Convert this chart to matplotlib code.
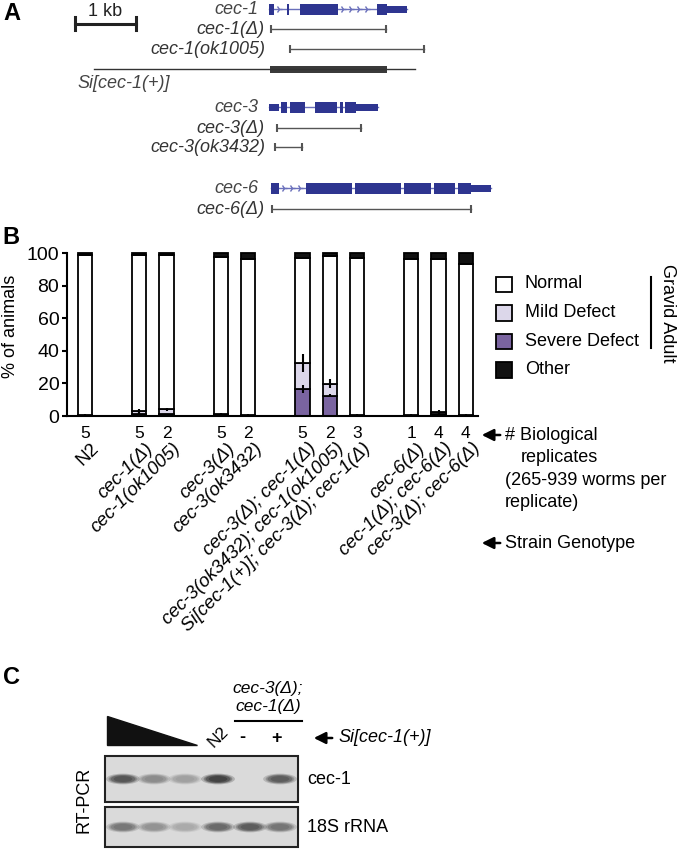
import matplotlib.pyplot as plt
import matplotlib.patches as mpatches
import numpy as np

plt.rcParams['font.family'] = ['Liberation Sans', 'DejaVu Sans']

# ---- panel B data ----
strains = ['N2', 'cec-1(Δ)', 'cec-1(ok1005)', 'cec-3(Δ)', 'cec-3(ok3432)',
           'cec-3(Δ); cec-1(Δ)', 'cec-3(ok3432); cec-1(ok1005)',
           'Si[cec-1(+)]; cec-3(Δ); cec-1(Δ)', 'cec-6(Δ)',
           'cec-1(Δ); cec-6(Δ)', 'cec-3(Δ); cec-6(Δ)']
slots = [0, 2, 3, 5, 6, 8, 9, 10, 12, 13, 14]
replicates = [5, 5, 2, 5, 2, 5, 2, 3, 1, 4, 4]
severe = np.array([0.4, 1.5, 1.0, 0.8, 0.5, 16.5, 12.5, 0.5, 0.5, 1.5, 0.5])
mild = np.array([0.3, 1.3, 3.0, 0.5, 0.3, 16.3, 7.2, 0.3, 0.3, 1.2, 0.3])
other = np.array([1.5, 1.0, 1.0, 2.5, 3.5, 3.2, 2.0, 3.0, 3.5, 3.5, 6.5])
normal = 100 - severe - mild - other
severe_err = [0.3, 1.0, 0.5, 0.3, 0.2, 2.5, 0.8, 0.2, 0.2, 1.0, 0.2]
mild_err = [0.3, 1.5, 1.0, 0.3, 0.2, 5.5, 2.8, 0.2, 0.2, 1.2, 0.2]
categories = ['Normal', 'Mild Defect', 'Severe Defect', 'Other']
colors = {'Normal': 'white', 'Mild Defect': '#dcd7ea',
          'Severe Defect': '#7a64a0', 'Other': '#111111'}

# ---- panel A gene models (kb) ----
genes = {
    'cec-1': [(0.00, 0.08, 'cds'), (0.30, 0.33, 'cds'), (0.51, 1.13, 'cds'),
              (1.77, 1.93, 'cds'), (1.93, 2.26, 'utr')],
    'cec-3': [(0.00, 0.16, 'utr'), (0.20, 0.30, 'cds'), (0.34, 0.59, 'cds'),
              (0.75, 1.11, 'cds'), (1.16, 1.21, 'cds'), (1.25, 1.43, 'cds'),
              (1.43, 1.79, 'utr')],
    'cec-6': [(0.03, 0.16, 'cds'), (0.61, 1.36, 'cds'), (1.41, 2.16, 'cds'),
              (2.21, 2.66, 'cds'), (2.70, 3.05, 'cds'), (3.10, 3.31, 'cds'),
              (3.31, 3.64, 'utr')],
}
gene_rows = {'cec-1': 9, 'cec-3': 107, 'cec-6': 188}
alleles = [('cec-1(Δ)', 0.03, 1.92, 29), ('cec-1(ok1005)', 0.34, 2.54, 49),
           ('cec-3(Δ)', 0.13, 1.51, 128), ('cec-3(ok3432)', 0.10, 0.54, 147),
           ('cec-6(Δ)', 0.05, 3.31, 209)]
transgene = (-2.87, 2.39, 0.02, 1.93, 69)

# ---- panel C gel band intensities ----
cec1_band = [0.85, 0.45, 0.3, 1.0, 0.0, 0.8]
rrna_band = [0.6, 0.4, 0.22, 0.7, 0.8, 0.62]

fig = plt.figure(figsize=(6.77, 8.5), dpi=100)
ov = fig.add_axes([0, 0, 1, 1])
ov.set_xlim(0, 677)
ov.set_ylim(850, 0)
ov.axis('off')

X0, KB = 269, 61.0
def px(kb):
    return X0 + KB * kb

# panel A
ov.text(3, 13, 'A', fontsize=17, fontweight='bold', va='center')
ov.plot([75, 136], [24, 24], color='#222', lw=2.2)
ov.plot([75, 75], [17, 30], color='#222', lw=2.2)
ov.plot([136, 136], [17, 30], color='#222', lw=2.2)
ov.text(105, 11, '1 kb', fontsize=13, ha='center', va='center', color='#222')

blue = '#2e3590'
for name, parts in genes.items():
    y = gene_rows[name]
    ov.plot([px(parts[0][0]), px(parts[-1][1])], [y, y], color='#6a70bb', lw=1, zorder=2)
    for a, b, kind in parts:
        h = 11 if kind == 'cds' else 7
        ov.add_patch(mpatches.Rectangle((px(a), y - h / 2), px(b) - px(a), h,
                                        color=blue, lw=0, zorder=3))
    for (a0, b0, _), (a1, b1, _) in zip(parts[:-1], parts[1:]):
        if px(a1) - px(b0) > 12:
            xs = np.arange(px(b0) + 5, px(a1) - 3, 8)
            ov.plot(xs, [y] * len(xs), ls='none', marker='4', ms=5,
                    color='#6a70bb', mew=1, zorder=2)
    ov.text(258, y, name, fontsize=13, style='italic', ha='right', va='center', color='#444')

for name, a, b, y in alleles:
    ov.plot([px(a), px(b)], [y, y], color='#555', lw=1)
    ov.plot([px(a), px(b)], [y, y], ls='none', marker='|', ms=6, mew=1.5, color='#555')
    ov.text(265, y, name, fontsize=13, style='italic', ha='right', va='center', color='#333')

l0, l1, t0, t1, ty = transgene
ov.plot([px(l0), px(l1)], [ty, ty], color='#333', lw=1)
ov.add_patch(mpatches.Rectangle((px(t0), ty - 3.5), px(t1) - px(t0), 7, color='#3a3a3a', lw=0))
ov.text(77, 83, 'Si[cec-1(+)]', fontsize=13, style='italic', ha='left', va='center', color='#444')

# panel B
ov.text(2, 237, 'B', fontsize=17, fontweight='bold', va='center')
ax = fig.add_axes([67 / 677, 1 - 416 / 850, (478 - 67) / 677, 163 / 850])
ax.patch.set_alpha(0)
w = 0.52
stack = [('Severe Defect', severe), ('Mild Defect', mild),
         ('Normal', normal), ('Other', other)]
bottom = np.zeros(len(slots))
for cat, vals in stack:
    ax.bar(slots, vals, w, bottom=bottom, color=colors[cat], edgecolor='black',
           linewidth=1.3, clip_on=False, zorder=2)
    bottom = bottom + vals
ax.errorbar(slots, severe, yerr=severe_err, fmt='none', ecolor='black',
            elinewidth=1.5, capsize=0, zorder=3, clip_on=False)
ax.errorbar(slots, severe + mild, yerr=mild_err, fmt='none', ecolor='black',
            elinewidth=1.5, capsize=0, zorder=3, clip_on=False)
ax.set_xlim(-0.66, 14.45)
ax.set_ylim(0, 100)
ax.set_yticks([0, 20, 40, 60, 80, 100])
ax.tick_params(axis='y', labelsize=14, length=3.5, width=1.5, direction='out', pad=2)
ax.set_xticks([])
for s in ['top', 'right']:
    ax.spines[s].set_visible(False)
for s in ['left', 'bottom']:
    ax.spines[s].set_linewidth(1.5)
ax.set_ylabel('% of animals', fontsize=13)
ax.yaxis.set_label_coords(-0.118, 0.55)

tr = ax.get_xaxis_transform()
for x, n, s in zip(slots, replicates, strains):
    ax.text(x, -0.11, str(n), transform=tr, fontsize=12.5, ha='center', va='center')
    ax.text(x + 0.2, -0.145, s, transform=tr, fontsize=13.5, ha='right', va='top',
            rotation=45, rotation_mode='anchor',
            style='normal' if s == 'N2' else 'italic')

# legend
for i, cat in enumerate(categories):
    y = 284 + 28.5 * i
    ov.add_patch(mpatches.Rectangle((496, y - 7.5), 15.5, 15.5, facecolor=colors[cat],
                                    edgecolor='black', lw=1.3))
    ov.text(525, y, cat, fontsize=13, va='center')
ov.plot([651, 651], [277, 348], color='black', lw=1.5)
ov.text(659, 313, 'Gravid Adult', fontsize=13, rotation=270, ha='left', va='center')

arrow = dict(arrowstyle='-|>,head_length=0.7,head_width=0.35', color='black', lw=1.8)
ov.annotate('', xy=(479, 435), xytext=(503, 435), arrowprops=arrow)
ov.text(505, 435, '# Biological', fontsize=13, va='center')
ov.text(521, 457, 'replicates', fontsize=13, va='center')
ov.text(505, 480, '(265-939 worms per', fontsize=13, va='center')
ov.text(505, 502, 'replicate)', fontsize=13, va='center')
ov.annotate('', xy=(479, 543), xytext=(503, 543), arrowprops=arrow)
ov.text(505, 543, 'Strain Genotype', fontsize=13, va='center')

# panel C
ov.text(3, 678, 'C', fontsize=17, fontweight='bold', va='center')
ov.add_patch(mpatches.Polygon([(107, 716), (107, 745), (197, 745)], closed=True, color='#111'))
ov.text(218, 737, 'N2', fontsize=12.5, rotation=45, ha='center', va='center')
ov.text(268, 689, 'cec-3(Δ);', fontsize=12.5, style='italic', ha='center', va='center')
ov.text(268, 706, 'cec-1(Δ)', fontsize=12.5, style='italic', ha='center', va='center')
ov.plot([235, 302], [721, 721], color='black', lw=1.5)
ov.text(242, 738, '-', fontsize=13, fontweight='bold', ha='center', va='center')
ov.text(276, 738, '+', fontsize=13, fontweight='bold', ha='center', va='center')
ov.annotate('', xy=(311, 738), xytext=(335, 738), arrowprops=arrow)
ov.text(338, 738, 'Si[cec-1(+)]', fontsize=13, style='italic', va='center')
ov.text(84, 800, 'RT-PCR', fontsize=13, rotation=90, ha='center', va='center')

lanes = [123, 154, 185, 218, 250, 280]
for (top, bot, label, bands) in [(756, 802, 'cec-1', cec1_band), (807, 847, '18S rRNA', rrna_band)]:
    ov.add_patch(mpatches.Rectangle((105, top), 193, bot - top, facecolor='#dadada',
                                    edgecolor='#222', lw=1.5, zorder=1))
    yc = (top + bot) / 2
    for xc, v in zip(lanes, bands):
        if v <= 0:
            continue
        g = 0.78 - 0.58 * v
        for k, a in [(1.35, 0.25), (1.15, 0.35), (1.0, 0.5), (0.75, 0.6)]:
            ov.add_patch(mpatches.Ellipse((xc, yc), 25 * k, 8 * k, lw=0,
                                          facecolor=(g, g, g), alpha=a, zorder=2))
    ov.text(307, yc, label, fontsize=13, va='center')

fig.savefig('out.png', dpi=100)
